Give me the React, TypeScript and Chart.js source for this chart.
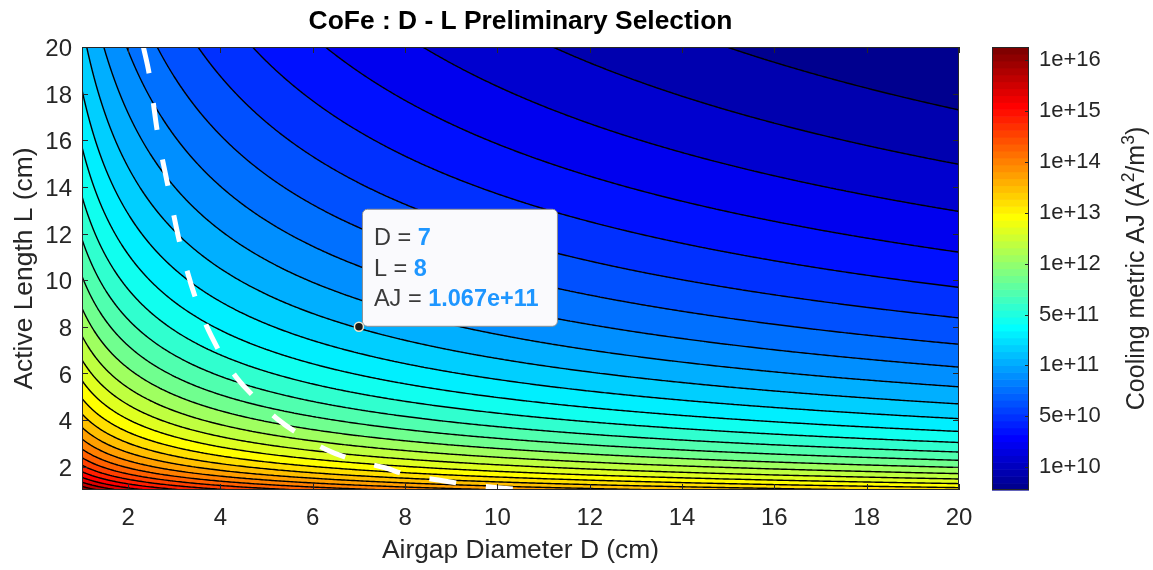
import React, { useEffect, useRef } from 'react';
import { Chart, registerables } from 'chart.js';

Chart.register(...registerables);

const FONT = "'Liberation Sans', Arial, Helvetica, sans-serif";
const INK = '#262626';

// ---- axes ----
const D_RANGE = [1, 20];
const L_RANGE = [1, 20];
const X_TICKS = [2, 4, 6, 8, 10, 12, 14, 16, 18, 20];
const Y_TICKS = [2, 4, 6, 8, 10, 12, 14, 16, 18, 20];

// ---- data tip ----
const TIP_D = 7;
const TIP_L = 8;
const TIP_AJ = 1.067e11;

const AJ_EXP_D = 1;
const AJ_EXP_L = 2;
const LEVEL_COUNT = 30;

// ---- white dashed selection curve ----
const CURVE_D = [2.33, 2.46, 2.63, 2.87, 3.13, 3.5, 3.96, 4.36, 4.76, 5.26, 5.73, 6.31, 6.88, 7.53, 8.07, 8.72, 9.3, 9.99, 10.56];
const CURVE_L = [20.0, 18.8, 16.4, 13.96, 11.5, 9.0, 7.0, 5.79, 4.94, 4.0, 3.36, 2.72, 2.29, 1.97, 1.64, 1.43, 1.25, 1.1, 1.0];

// ---- colorbar ----
const CB_TICK_LABELS = ['1e+10', '5e+10', '1e+11', '5e+11', '1e+12', '1e+13', '1e+14', '1e+15', '1e+16'];
const CB_RANGE = [-0.45, 8.26];
const CB_COLORS = 64;

const TITLE = 'CoFe : D - L Preliminary Selection';
const X_LABEL = 'Airgap Diameter D (cm)';
const Y_LABEL = 'Active Length L (cm)';
const CB_LABEL = [
  { t: 'Cooling metric AJ (A', sup: false },
  { t: '2', sup: true },
  { t: '/m', sup: false },
  { t: '3', sup: true },
  { t: ')', sup: false },
];

function logAJ(D: number, L: number) {
  return Math.log10(TIP_AJ) - AJ_EXP_D * Math.log10(D / TIP_D) - AJ_EXP_L * Math.log10(L / TIP_L);
}

function jet(j: number): [number, number, number] {
  // MATLAB jet(64), j is 1-based
  const u = (i: number) => (i < 1 || i > 47 ? 0 : i <= 16 ? i / 16 : i <= 31 ? 1 : (48 - i) / 16);
  return [u(j - 24), u(j - 8), u(j + 8)];
}

function rgb(c: [number, number, number]) {
  return `rgb(${Math.round(c[0] * 255)},${Math.round(c[1] * 255)},${Math.round(c[2] * 255)})`;
}

const contourPlugin = {
  id: 'contourField',
  beforeDatasetsDraw(chart: any) {
    const { ctx, chartArea: ca } = chart;
    const xs = chart.scales.x;
    const ys = chart.scales.y;
    const left = Math.round(ca.left);
    const top = Math.round(ca.top);
    const w = Math.round(ca.right) - left;
    const h = Math.round(ca.bottom) - top;

    const corners = [
      logAJ(D_RANGE[0], L_RANGE[0]),
      logAJ(D_RANGE[1], L_RANGE[0]),
      logAJ(D_RANGE[0], L_RANGE[1]),
      logAJ(D_RANGE[1], L_RANGE[1]),
    ];
    const zmin = Math.min(...corners);
    const zmax = Math.max(...corners);
    const step = (zmax - zmin) / (LEVEL_COUNT + 1);

    const bandColors: [number, number, number][] = [];
    for (let k = 0; k <= LEVEL_COUNT; k++) {
      const idx = Math.min(CB_COLORS, Math.floor((k / (LEVEL_COUNT + 1)) * CB_COLORS) + 1);
      bandColors.push(jet(idx));
    }

    // filled bands
    const img = ctx.createImageData(w, h);
    const colD = new Float64Array(w);
    for (let i = 0; i < w; i++) colD[i] = xs.getValueForPixel(left + i + 0.5);
    for (let j = 0; j < h; j++) {
      const L = ys.getValueForPixel(top + j + 0.5);
      for (let i = 0; i < w; i++) {
        const z = logAJ(colD[i], L);
        let k = Math.floor((z - zmin) / step);
        if (k < 0) k = 0;
        if (k > LEVEL_COUNT) k = LEVEL_COUNT;
        const c = bandColors[k];
        const p = (j * w + i) * 4;
        img.data[p] = Math.round(c[0] * 255);
        img.data[p + 1] = Math.round(c[1] * 255);
        img.data[p + 2] = Math.round(c[2] * 255);
        img.data[p + 3] = 255;
      }
    }
    ctx.putImageData(img, left, top);

    // contour lines (marching squares)
    const s = 2;
    const nx = Math.ceil(w / s);
    const ny = Math.ceil(h / s);
    const px: number[] = [];
    const py: number[] = [];
    for (let i = 0; i <= nx; i++) px.push(left + Math.min(i * s, w));
    for (let j = 0; j <= ny; j++) py.push(top + Math.min(j * s, h));
    const vd = px.map((p) => xs.getValueForPixel(p));
    const vl = py.map((p) => ys.getValueForPixel(p));
    const Z: Float64Array[] = [];
    for (let j = 0; j <= ny; j++) {
      const row = new Float64Array(nx + 1);
      for (let i = 0; i <= nx; i++) row[i] = logAJ(vd[i], vl[j]);
      Z.push(row);
    }
    ctx.save();
    ctx.beginPath();
    ctx.rect(left, top, w, h);
    ctx.clip();
    ctx.beginPath();
    for (let j = 0; j < ny; j++) {
      for (let i = 0; i < nx; i++) {
        const z00 = Z[j][i], z10 = Z[j][i + 1], z01 = Z[j + 1][i], z11 = Z[j + 1][i + 1];
        const lo = Math.min(z00, z10, z01, z11);
        const hi = Math.max(z00, z10, z01, z11);
        const k0 = Math.max(1, Math.ceil((lo - zmin) / step));
        const k1 = Math.min(LEVEL_COUNT, Math.floor((hi - zmin) / step));
        for (let k = k0; k <= k1; k++) {
          const lv = zmin + k * step;
          const pts: number[][] = [];
          const edge = (za: number, zb: number, xa: number, ya: number, xb: number, yb: number) => {
            if ((za - lv) * (zb - lv) < 0) {
              const t = (lv - za) / (zb - za);
              pts.push([xa + (xb - xa) * t, ya + (yb - ya) * t]);
            }
          };
          edge(z00, z10, px[i], py[j], px[i + 1], py[j]);
          edge(z10, z11, px[i + 1], py[j], px[i + 1], py[j + 1]);
          edge(z11, z01, px[i + 1], py[j + 1], px[i], py[j + 1]);
          edge(z01, z00, px[i], py[j + 1], px[i], py[j]);
          for (let q = 0; q + 1 < pts.length; q += 2) {
            ctx.moveTo(pts[q][0], pts[q][1]);
            ctx.lineTo(pts[q + 1][0], pts[q + 1][1]);
          }
        }
      }
    }
    ctx.strokeStyle = '#000000';
    ctx.lineWidth = 1.4;
    ctx.lineCap = 'round';
    ctx.stroke();
    ctx.restore();

    // data tip box
    const tx = xs.getPixelForValue(TIP_D);
    const ty = ys.getPixelForValue(TIP_L);
    const bx = tx + 3;
    const by = ty - 118;
    const bw = 195;
    const bh = 117;
    ctx.save();
    ctx.beginPath();
    ctx.roundRect(bx + 0.5, by + 0.5, bw, bh, 5);
    ctx.fillStyle = '#fafafd';
    ctx.fill();
    ctx.strokeStyle = '#8f8f8f';
    ctx.lineWidth = 1;
    ctx.stroke();
    const lines = [
      ['D = ', String(TIP_D)],
      ['L = ', String(TIP_L)],
      ['AJ = ', TIP_AJ.toExponential(3)],
    ];
    ctx.textBaseline = 'middle';
    ctx.textAlign = 'left';
    lines.forEach((ln, n) => {
      const yy = by + 30 + n * 30.5;
      ctx.font = `23.5px ${FONT}`;
      ctx.fillStyle = '#3a3a3a';
      ctx.fillText(ln[0], bx + 12, yy);
      const lw = ctx.measureText(ln[0]).width;
      ctx.font = `bold 23.5px ${FONT}`;
      ctx.fillStyle = '#1e96ff';
      ctx.fillText(ln[1], bx + 12 + lw, yy);
    });
    ctx.restore();
  },
  afterDraw(chart: any) {
    const { ctx, chartArea: ca } = chart;
    const xs = chart.scales.x;
    const ys = chart.scales.y;
    const cb = chart.scales.cb;
    ctx.save();

    // axes box and inward ticks
    ctx.strokeStyle = INK;
    ctx.lineWidth = 1;
    ctx.strokeRect(Math.round(ca.left) + 0.5, Math.round(ca.top) + 0.5, Math.round(ca.right - ca.left) - 1, Math.round(ca.bottom - ca.top) - 1);
    const tl = 6;
    ctx.beginPath();
    X_TICKS.forEach((v) => {
      const p = Math.round(xs.getPixelForValue(v)) + 0.5;
      ctx.moveTo(p, ca.bottom);
      ctx.lineTo(p, ca.bottom - tl);
      ctx.moveTo(p, ca.top);
      ctx.lineTo(p, ca.top + tl);
    });
    Y_TICKS.forEach((v) => {
      const p = Math.round(ys.getPixelForValue(v)) + 0.5;
      ctx.moveTo(ca.left, p);
      ctx.lineTo(ca.left + tl, p);
      ctx.moveTo(ca.right, p);
      ctx.lineTo(ca.right - tl, p);
    });
    ctx.stroke();

    // colorbar
    const cx0 = Math.round(ca.right) + 33;
    const cx1 = Math.round(ca.right) + 70;
    for (let k = 0; k < CB_COLORS; k++) {
      const v0 = CB_RANGE[0] + (k / CB_COLORS) * (CB_RANGE[1] - CB_RANGE[0]);
      const v1 = CB_RANGE[0] + ((k + 1) / CB_COLORS) * (CB_RANGE[1] - CB_RANGE[0]);
      const y0 = cb.getPixelForValue(v0);
      const y1 = cb.getPixelForValue(v1);
      ctx.fillStyle = rgb(jet(k + 1));
      ctx.fillRect(cx0, y1, cx1 - cx0, y0 - y1 + 0.6);
    }
    ctx.strokeStyle = INK;
    ctx.strokeRect(cx0 + 0.5, Math.round(cb.top) + 0.5, cx1 - cx0 - 1, Math.round(cb.bottom - cb.top) - 1);
    ctx.beginPath();
    CB_TICK_LABELS.forEach((_, i) => {
      const p = Math.round(cb.getPixelForValue(i)) + 0.5;
      ctx.moveTo(cx1, p);
      ctx.lineTo(cx1 - 4, p);
    });
    ctx.stroke();

    // colorbar label (rotated, with superscripts)
    ctx.save();
    ctx.translate(1144, (cb.top + cb.bottom) / 2);
    ctx.rotate(-Math.PI / 2);
    ctx.fillStyle = INK;
    ctx.textBaseline = 'alphabetic';
    ctx.textAlign = 'left';
    const fs = 25;
    let total = 0;
    CB_LABEL.forEach((seg) => {
      ctx.font = `${seg.sup ? fs * 0.7 : fs}px ${FONT}`;
      total += ctx.measureText(seg.t).width;
    });
    let cx = -total / 2;
    CB_LABEL.forEach((seg) => {
      ctx.font = `${seg.sup ? fs * 0.7 : fs}px ${FONT}`;
      ctx.fillText(seg.t, cx, seg.sup ? -fs * 0.42 : 0);
      cx += ctx.measureText(seg.t).width;
    });
    ctx.restore();

    // title
    ctx.fillStyle = '#000000';
    ctx.font = `bold 26.4px ${FONT}`;
    ctx.textAlign = 'center';
    ctx.textBaseline = 'middle';
    ctx.fillText(TITLE, (ca.left + ca.right) / 2, 22);
    ctx.restore();
  },
};

export default function App() {
  const ref = useRef<HTMLCanvasElement>(null);
  useEffect(() => {
    if (!ref.current) return;
    const chart = new Chart(ref.current, {
      type: 'scatter',
      data: {
        datasets: [
          {
            type: 'line',
            label: 'selection',
            data: CURVE_D.map((d, i) => ({ x: d, y: CURVE_L[i] })),
            borderColor: '#ffffff',
            borderWidth: 5,
            borderDash: [27, 30],
            borderCapStyle: 'butt',
            pointRadius: 0,
            showLine: true,
            fill: false,
            cubicInterpolationMode: 'monotone',
          } as any,
          {
            type: 'scatter',
            label: 'tip',
            data: [{ x: TIP_D, y: TIP_L }],
            pointRadius: 4.5,
            pointBackgroundColor: '#1a1a1a',
            pointBorderColor: '#efe9cf',
            pointBorderWidth: 1.5,
          } as any,
        ],
      },
      options: {
        responsive: false,
        maintainAspectRatio: false,
        animation: false,
        events: [],
        layout: { padding: { top: 47, left: 0, right: 0, bottom: 0 } },
        plugins: { legend: { display: false }, tooltip: { enabled: false }, title: { display: false } },
        scales: {
          x: {
            type: 'linear',
            position: 'bottom',
            min: D_RANGE[0],
            max: D_RANGE[1],
            afterBuildTicks: (s: any) => {
              s.ticks = X_TICKS.map((v) => ({ value: v }));
            },
            afterFit: (s: any) => {
              s.height = 80;
            },
            grid: { display: false, drawTicks: false },
            border: { display: false },
            ticks: {
              autoSkip: false,
              maxRotation: 0,
              padding: 14,
              color: INK,
              font: { family: FONT, size: 24 },
              callback: (v: any) => String(v),
            },
            title: {
              display: true,
              text: X_LABEL,
              color: INK,
              font: { family: FONT, size: 26.4 },
              padding: { top: 0, bottom: 3 },
            },
          },
          y: {
            type: 'linear',
            position: 'left',
            min: L_RANGE[0],
            max: L_RANGE[1],
            afterBuildTicks: (s: any) => {
              s.ticks = Y_TICKS.map((v) => ({ value: v }));
            },
            afterFit: (s: any) => {
              s.width = 82;
            },
            grid: { display: false, drawTicks: false },
            border: { display: false },
            ticks: {
              autoSkip: false,
              padding: 10,
              labelOffset: 2.5,
              color: INK,
              font: { family: FONT, size: 24 },
              callback: (v: any) => String(v),
            },
            title: {
              display: true,
              text: Y_LABEL,
              color: INK,
              font: { family: FONT, size: 26.4 },
              padding: { top: 8.5, bottom: 0 },
            },
          },
          cb: {
            type: 'linear',
            position: 'right',
            min: CB_RANGE[0],
            max: CB_RANGE[1],
            afterBuildTicks: (s: any) => {
              s.ticks = CB_TICK_LABELS.map((_, i) => ({ value: i }));
            },
            afterFit: (s: any) => {
              s.width = 1153 - 959;
            },
            grid: { display: false, drawTicks: true, tickLength: 80 },
            border: { display: false },
            ticks: {
              autoSkip: false,
              padding: 0,
              color: INK,
              font: { family: FONT, size: 22 },
              callback: (v: any) => CB_TICK_LABELS[Math.round(v)] ?? '',
            },
          },
        } as any,
      },
      plugins: [contourPlugin],
    } as any);
    return () => chart.destroy();
  }, []);
  return (
    <div style={{ position: 'fixed', left: 0, top: 0, width: 1153, height: 570, background: '#ffffff' }}>
      <canvas ref={ref} width={1153} height={570} style={{ display: 'block', width: 1153, height: 570 }} />
    </div>
  );
}
